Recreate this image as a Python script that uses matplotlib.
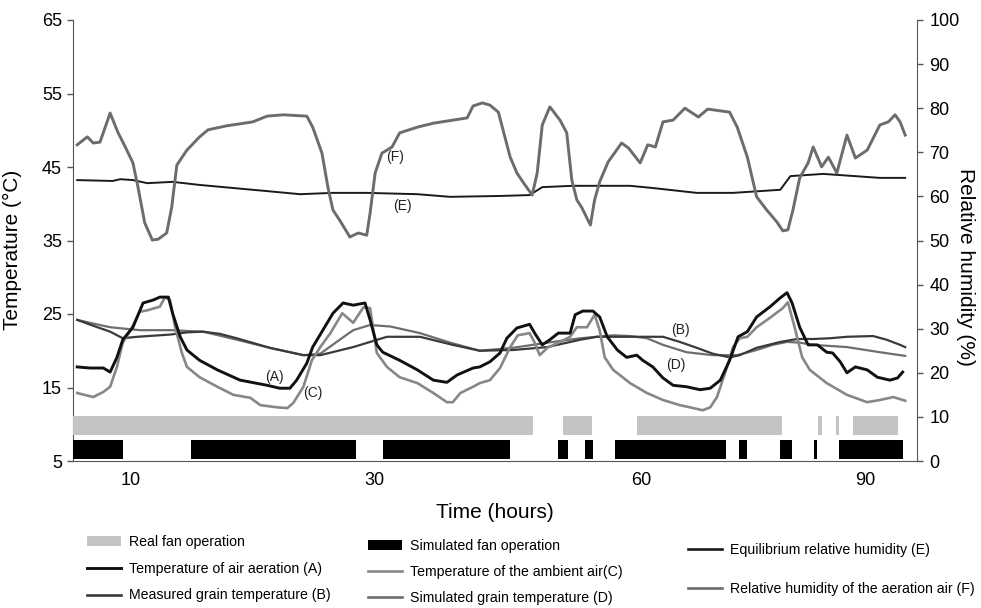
import matplotlib
matplotlib.use("Agg")
import matplotlib.pyplot as plt
from matplotlib.patches import Patch
from matplotlib.lines import Line2D

plt.rcParams['font.family'] = ['Liberation Sans', 'DejaVu Sans']

# ---------------- data (x = record position, 0..100 across the chart) -------------
tick_pos = [6.87, 35.66, 67.3, 93.84]
tick_labels = ['10', '30', '60', '90']

# Temperature of air aeration (A)
a_x = [0.5, 2.0, 3.6, 4.4, 5.2, 5.9, 7.1, 8.3, 9.5, 10.3, 11.3, 11.8, 12.7, 13.5, 15.0, 17.1,
       19.8, 23.0, 24.5, 25.7, 26.5, 27.7, 28.4, 29.6, 30.8, 32.0, 33.2, 34.6, 35.2, 36.0, 36.7,
       38.7, 40.8, 42.7, 44.3, 45.5, 47.4, 48.2, 49.4, 50.6, 51.4, 52.6, 54.1, 54.7, 55.6, 56.5,
       57.5, 58.9, 59.5, 60.4, 61.6, 62.4, 63.3, 64.5, 65.6, 66.8, 67.5, 68.7, 69.9, 71.1, 72.7,
       74.3, 75.5, 76.7, 77.8, 78.8, 79.9, 81.0, 82.6, 83.8, 84.6, 85.2, 86.1, 87.1, 88.2, 89.3,
       90.0, 90.9, 91.7, 92.7, 94.1, 95.3, 96.8, 97.7, 98.3]
a_y = [17.8, 17.65, 17.65, 17.1, 19.1, 21.5, 23.2, 26.5, 26.9, 27.3, 27.3, 25.1, 21.9, 20.1, 18.7, 17.4,
       16.0, 15.3, 14.9, 14.9, 16.0, 18.3, 20.5, 22.8, 25.1, 26.5, 26.2, 26.5, 24.2, 20.8, 19.8,
       18.7, 17.4, 16.0, 15.7, 16.7, 17.65, 17.8, 18.5, 19.7, 21.7, 23.1, 23.6, 22.4, 20.8, 21.5,
       22.4, 22.4, 24.9, 25.4, 25.4, 24.6, 21.9, 20.1, 19.1, 19.4, 18.7, 17.8, 16.3, 15.3, 15.1,
       14.7, 14.9, 16.0, 18.7, 21.9, 22.6, 24.6, 26.0, 27.2, 27.9, 26.5, 23.2, 20.8, 20.8, 19.8,
       19.7, 18.5, 17.0, 17.8, 17.4, 16.4, 16.0, 16.3, 17.1]

# Temperature of the ambient air (C)
c_x = [0.5, 2.4, 3.6, 4.4, 5.2, 5.9, 7.0, 7.9, 8.8, 10.3, 10.9, 11.5, 12.1, 12.9, 13.5, 15.0,
       17.1, 19.0, 21.0, 22.2, 24.2, 25.4, 26.1, 27.3, 28.3, 29.3, 30.5, 31.9, 33.2, 34.4, 35.2,
       36.0, 37.2, 38.7, 40.8, 42.7, 44.3, 45.0, 45.9, 47.4, 48.2, 49.4, 50.6, 51.8, 52.7, 54.1,
       54.7, 55.3, 56.2, 57.7, 58.9, 59.7, 60.9, 61.8, 62.4, 63.0, 64.0, 66.0, 68.0, 69.9, 71.9,
       73.5, 74.6, 75.5, 76.3, 77.5, 78.2, 79.0, 79.9, 81.0, 82.6, 84.1, 84.7, 85.5, 86.4, 87.3,
       89.3, 91.7, 94.1, 95.6, 97.2, 98.6]
c_y = [14.25, 13.7, 14.4, 15.1, 17.8, 21.1, 23.2, 25.3, 25.5, 26.0, 27.3, 26.9, 23.2, 19.7, 17.8, 16.4,
       15.1, 14.0, 13.6, 12.6, 12.3, 12.2, 12.9, 15.1, 18.7, 20.5, 22.4, 25.1, 23.8, 25.9, 25.8,
       19.7, 17.8, 16.4, 15.6, 14.25, 13.0, 13.0, 14.25, 15.1, 15.6, 16.0, 17.65, 20.5, 22.1, 22.4,
       21.1, 19.4, 20.4, 21.2, 21.9, 23.2, 23.2, 24.9, 22.8, 19.1, 17.4, 15.6, 14.25, 13.3, 12.6,
       12.2, 11.9, 12.3, 13.7, 17.8, 20.5, 21.7, 21.9, 23.2, 24.5, 25.8, 26.6, 23.2, 19.1, 17.4,
       15.6, 14.0, 13.0, 13.3, 13.7, 13.2]

# Measured grain temperature (B)
b_x = [0.5, 2.4, 4.4, 5.9, 7.6, 11.5, 13.5, 15.4, 17.4, 19.4, 23.3, 27.3, 29.3, 33.2, 37.2, 41.1,
       45.0, 48.2, 52.1, 56.2, 60.1, 62.1, 66.0, 69.9, 71.9, 73.9, 75.8, 77.8, 79.0, 81.0, 83.8,
       85.8, 87.7, 89.7, 91.7, 94.8, 96.4, 98.0, 98.6]
b_y = [24.2, 23.4, 22.6, 21.7, 21.9, 22.2, 22.5, 22.6, 22.3, 21.7, 20.4, 19.4, 19.4, 20.5, 21.9, 21.9,
       20.8, 20.0, 20.1, 20.5, 21.5, 21.9, 21.9, 21.9, 21.2, 20.4, 19.6, 19.1, 19.4, 20.4, 21.2,
       21.6, 21.6, 21.7, 21.9, 22.0, 21.5, 20.8, 20.5]

# Simulated grain temperature (D)
d_x = [0.5, 2.4, 4.4, 7.9, 11.5, 15.4, 19.4, 23.3, 27.3, 29.3, 31.6, 33.2, 35.2, 37.6, 41.1, 44.7,
       48.2, 52.1, 56.2, 60.1, 64.0, 66.0, 68.0, 69.9, 72.7, 75.8, 78.7, 81.0, 82.9, 84.6, 86.1,
       87.7, 91.7, 95.6, 98.6]
d_y = [24.2, 23.7, 23.2, 22.8, 22.8, 22.6, 21.5, 20.4, 19.4, 19.6, 21.5, 22.8, 23.5, 23.3, 22.4, 21.1,
       20.0, 20.4, 21.1, 21.7, 22.1, 22.0, 21.7, 20.8, 19.8, 19.4, 19.4, 20.1, 20.8, 21.2, 21.1,
       20.8, 20.5, 19.8, 19.3]

# Equilibrium relative humidity (E)
e_x = [0.5, 4.7, 5.6, 7.1, 8.8, 11.8, 15.0, 19.0, 23.0, 26.9, 30.8, 34.8, 40.8, 44.7, 50.6, 54.1,
       55.6, 59.2, 66.0, 68.7, 73.9, 78.2, 83.8, 85.0, 88.9, 95.6, 98.6]
e_y = [63.7, 63.5, 63.9, 63.7, 63.0, 63.3, 62.6, 61.9, 61.2, 60.5, 60.8, 60.8, 60.5, 59.9, 60.1, 60.3,
       62.1, 62.4, 62.4, 61.9, 60.8, 60.8, 61.5, 64.6, 65.1, 64.2, 64.2]

# Relative humidity of the aeration air (F)
f_x = [0.5, 1.7, 2.4, 3.2, 4.4, 5.3, 6.2, 7.1, 7.7, 8.5, 9.4, 10.1, 11.1, 11.7, 12.3, 13.5, 15.0,
       16.0, 18.2, 21.3, 23.0, 24.9, 27.7, 28.4, 29.5, 30.2, 30.8, 31.6, 32.8, 33.8, 34.8, 35.2,
       35.8, 36.6, 37.8, 38.7, 40.8, 42.7, 46.7, 47.4, 48.5, 49.4, 50.4, 51.8, 52.6, 53.3, 54.4,
       55.0, 55.6, 56.5, 57.7, 58.5, 59.1, 59.7, 60.3, 61.3, 61.8, 62.4, 63.4, 65.0, 65.8, 67.2,
       68.1, 69.0, 69.9, 71.1, 72.5, 74.1, 75.2, 77.8, 78.7, 79.9, 81.0, 82.2, 83.4, 84.1, 84.7,
       85.3, 86.1, 87.1, 87.7, 88.7, 89.5, 90.5, 91.7, 92.7, 94.1, 95.6, 96.6, 97.4, 98.0, 98.6]
f_y = [71.7, 73.5, 72.1, 72.3, 78.9, 74.6, 71.2, 67.6, 62.1, 54.0, 50.1, 50.3, 51.7, 57.6, 67.1, 70.5, 73.5,
       75.1, 76.0, 76.9, 78.2, 78.5, 78.2, 75.7, 69.8, 62.1, 56.9, 54.6, 50.8, 51.7, 51.2, 56.2,
       65.3, 69.8, 71.2, 74.4, 75.7, 76.6, 77.8, 80.5, 81.2, 80.7, 79.1, 68.9, 65.3, 63.3, 60.3,
       65.3, 76.2, 80.3, 77.3, 74.4, 63.7, 59.2, 57.4, 53.5, 59.2, 63.3, 67.8, 72.1, 71.0, 67.6,
       71.7, 71.2, 76.9, 77.3, 80.0, 78.0, 79.8, 79.1, 75.7, 68.9, 59.9, 56.9, 54.2, 52.2, 52.4,
       56.9, 64.2, 67.6, 71.2, 66.7, 68.9, 65.3, 73.9, 68.7, 70.5, 76.2, 76.9, 78.5, 76.9, 73.9]

# Fan operation periods (start, end) in record positions
real_fan_start = [0.0, 58.1, 66.8, 88.3, 90.4, 92.4]
real_fan_end = [54.5, 61.5, 84.0, 88.7, 90.8, 97.7]
sim_fan_start = [0.0, 14.0, 36.7, 57.5, 60.7, 64.2, 78.9, 83.8, 87.8, 90.8]
sim_fan_end = [5.9, 33.5, 51.8, 58.6, 61.6, 77.4, 79.9, 85.2, 88.2, 98.3]

curve_labels = ['(A)', '(B)', '(C)', '(D)', '(E)', '(F)']
label_x = [23.9, 72.0, 28.4, 71.4, 39.0, 38.1]
label_y = [16.4, 22.8, 14.2, 18.1, 39.7, 46.4]

# ---------------- figure ----------------
W, H = 981, 608
fig = plt.figure(figsize=(W / 100, H / 100), dpi=100)
L, R, T, B = 73, 917, 20, 461
ax = fig.add_axes([L / W, 1 - B / H, (R - L) / W, (B - T) / H])
ax2 = ax.twinx()

spine_c = '#555555'
col_real = '#c4c4c4'
col_sim = '#000000'
col_a = '#111111'
col_b = '#3a3a3a'
col_c = '#878787'
col_d = '#6e6e6e'
col_e = '#1a1a1a'
col_f = '#6c6c6c'

ax.set_xlim(0, 100)
ax.set_ylim(5, 65)
ax2.set_ylim(0, 100)

# fan bars (in RH units on secondary axis)
ax2.broken_barh([(s, e - s) for s, e in zip(real_fan_start, real_fan_end)], (6.0, 4.2),
                facecolor=col_real, edgecolor='none', zorder=1)
ax2.broken_barh([(s, e - s) for s, e in zip(sim_fan_start, sim_fan_end)], (0.5, 4.3),
                facecolor=col_sim, edgecolor='none', zorder=1)

ax.plot(d_x, d_y, color=col_d, lw=1.6, zorder=3)
ax.plot(b_x, b_y, color=col_b, lw=1.6, zorder=3)
ax.plot(c_x, c_y, color=col_c, lw=1.9, zorder=4)
ax.plot(a_x, a_y, color=col_a, lw=2.1, zorder=5)
ax2.plot(e_x, e_y, color=col_e, lw=1.4, zorder=3)
ax2.plot(f_x, f_y, color=col_f, lw=2.1, zorder=4)

for t, x, y in zip(curve_labels, label_x, label_y):
    ax.text(x, y, t, fontsize=10, ha='center', va='center', color='#222222', zorder=6)

ax.set_yticks(range(5, 66, 10))
ax2.set_yticks(range(0, 101, 10))
ax.set_xticks(tick_pos)
ax.set_xticklabels(tick_labels)

ax.tick_params(axis='y', direction='out', length=4, width=1, color=spine_c, labelsize=13, pad=4)
ax2.tick_params(axis='y', direction='out', length=4, width=1, color=spine_c, labelsize=13, pad=5)
ax.tick_params(axis='x', length=0, labelsize=13, pad=8)

for sp in ['top', 'right']:
    ax.spines[sp].set_visible(False)
for sp in ['top', 'left', 'bottom']:
    ax2.spines[sp].set_visible(False)
ax.spines['left'].set_color(spine_c)
ax.spines['bottom'].set_color(spine_c)
ax2.spines['right'].set_color(spine_c)

ax.set_ylabel('Temperature (°C)', fontsize=15)
ax.yaxis.set_label_coords(-0.0604, 0.478)
ax2.set_ylabel('Relative humidity (%)', fontsize=15, rotation=270, va='center')
ax2.yaxis.set_label_coords(1.057, 0.44)
ax.set_xlabel('Time (hours)', fontsize=15)
ax.xaxis.set_label_coords(0.5, -0.095)

# ---------------- legends ----------------
fs = 10.2
common = dict(frameon=False, fontsize=fs, borderpad=0, handlelength=2.4, handletextpad=0.55,
              borderaxespad=0, loc='upper left')
h1 = [Patch(facecolor=col_real, edgecolor='none'),
      Line2D([], [], color=col_a, lw=2.1),
      Line2D([], [], color=col_b, lw=1.9)]
fig.legend(h1, ['Real fan operation', 'Temperature of air aeration (A)',
                'Measured grain temperature (B)'],
           bbox_to_anchor=(87 / W, 1 - 535 / H), labelspacing=0.9, **common)
h2 = [Patch(facecolor=col_sim, edgecolor='none'),
      Line2D([], [], color=col_c, lw=1.9),
      Line2D([], [], color=col_d, lw=1.9)]
fig.legend(h2, ['Simulated fan operation', 'Temperature of the ambient air(C)',
                'Simulated grain temperature (D)'],
           bbox_to_anchor=(368 / W, 1 - 539 / H), labelspacing=0.83, **common)
h3 = [Line2D([], [], color=col_e, lw=1.9),
      Line2D([], [], color=col_f, lw=1.9)]
fig.legend(h3, ['Equilibrium relative humidity (E)', 'Relative humidity of the aeration air (F)'],
           bbox_to_anchor=(688 / W, 1 - 543 / H), labelspacing=1.75, **common)

fig.savefig('out.png', dpi=100)
